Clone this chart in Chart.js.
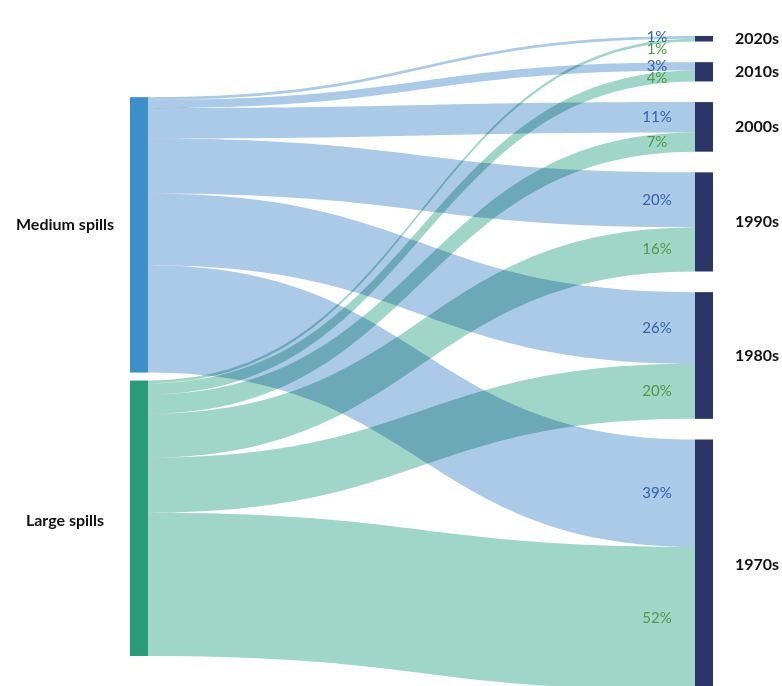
<!DOCTYPE html>
<html>
<head>
<meta charset="utf-8">
<script src="https://cdn.jsdelivr.net/npm/chart.js@4"></script>
<style>
  body { margin: 0; background: #fff; }
</style>
</head>
<body>
<canvas id="sankey" width="782" height="686"></canvas>
<script>
// share of each spill size by decade (%)
const sources = ["Medium spills", "Large spills"];
const decades = ["2020s", "2010s", "2000s", "1990s", "1980s", "1970s"];
const mediumShares = [1, 3, 11, 20, 26, 39];
const largeShares = [1, 4, 7, 16, 20, 52];

const flowColors = ["#aacae8", "#9fd6c7"];
const sourceColors = ["#3d8fc8", "#2a9b78"];
const labelColors = ["#3561aa", "#4f9a46"];
const decadeColor = "#2c3567";

const nodeWidth = 18;
const leftTop = 22.2;
const leftGap = 2.9;
const rightGap = 7.5;

const sankeyPlugin = {
  id: "sankey",
  beforeDraw: (chart) => {
    const c = chart.ctx;
    c.save();
    c.fillStyle = "#fff";
    c.fillRect(0, 0, chart.width, chart.height);
    c.restore();
  },
  afterDatasetsDraw: (chart) => {
    const c = chart.ctx;
    const xs = chart.scales.x;
    const ys = chart.scales.y;
    const px = (v) => xs.getPixelForValue(v);
    const py = (v) => ys.getPixelForValue(v);
    const shares = [mediumShares, largeShares];

    // node positions in value units
    const srcTop = [];
    let t = leftTop;
    shares.forEach((s) => {
      srcTop.push(t);
      t += s.reduce((a, b) => a + b, 0) + leftGap;
    });
    const decTop = [];
    const decSize = decades.map((_, i) => mediumShares[i] + largeShares[i]);
    t = 0;
    decSize.forEach((s) => {
      decTop.push(t);
      t += s + rightGap;
    });

    const x0 = px(0);
    const x1 = px(1);
    const xm = (x0 + x1) / 2;

    // flows
    const decCursor = decades.map(() => 0);
    const labels = [];
    c.save();
    c.globalCompositeOperation = "multiply";
    shares.forEach((s, si) => {
      let cursor = 0;
      s.forEach((v, di) => {
        const a0 = py(srcTop[si] + cursor);
        const a1 = py(srcTop[si] + cursor + v);
        const b0 = py(decTop[di] + decCursor[di]);
        const b1 = py(decTop[di] + decCursor[di] + v);
        c.beginPath();
        c.moveTo(x0, a0);
        c.bezierCurveTo(xm, a0, xm, b0, x1, b0);
        c.lineTo(x1, b1);
        c.bezierCurveTo(xm, b1, xm, a1, x0, a1);
        c.closePath();
        c.fillStyle = flowColors[si];
        c.fill();
        labels.push({ y: (b0 + b1) / 2, text: v + "%", color: labelColors[si] });
        cursor += v;
        decCursor[di] += v;
      });
    });
    c.restore();

    // nodes
    c.save();
    sources.forEach((name, si) => {
      const top = py(srcTop[si]);
      const bottom = py(srcTop[si] + shares[si].reduce((a, b) => a + b, 0));
      c.fillStyle = sourceColors[si];
      c.fillRect(x0 - nodeWidth, top, nodeWidth, bottom - top);
      c.fillStyle = "#111";
      c.font = "bold 16px Lato";
      c.textAlign = "center";
      c.textBaseline = "middle";
      c.fillText(name, 65, (top + bottom) / 2 - (si === 0 ? 10 : -3));
    });
    decades.forEach((name, di) => {
      const top = py(decTop[di]);
      const bottom = py(decTop[di] + decSize[di]);
      c.fillStyle = decadeColor;
      c.fillRect(x1, top, nodeWidth, bottom - top);
      c.fillStyle = "#111";
      c.font = "bold 16px Lato";
      c.textAlign = "left";
      c.textBaseline = "middle";
      c.fillText(name, x1 + nodeWidth + 22, (top + bottom) / 2);
    });

    // percent labels, pushed apart where flows are thin
    labels.sort((a, b) => a.y - b.y);
    let last = -Infinity;
    c.font = "15px Lato";
    c.textAlign = "center";
    c.textBaseline = "middle";
    labels.forEach((l) => {
      const y = Math.max(l.y, last + 12);
      c.fillStyle = l.color;
      c.fillText(l.text, x1 - 38, y);
      last = y;
    });
    c.restore();
  },
};

new Chart(document.getElementById("sankey"), {
  type: "scatter",
  data: { datasets: [{ data: [] }] },
  options: {
    responsive: false,
    animation: false,
    layout: { padding: { left: 148, right: 87, top: 36, bottom: 0 } },
    plugins: {
      legend: { display: false },
      tooltip: { enabled: false },
    },
    scales: {
      x: { type: "linear", min: 0, max: 1, display: false },
      y: { type: "linear", min: 0, max: 236, reverse: true, display: false },
    },
  },
  plugins: [sankeyPlugin],
});
</script>
</body>
</html>
